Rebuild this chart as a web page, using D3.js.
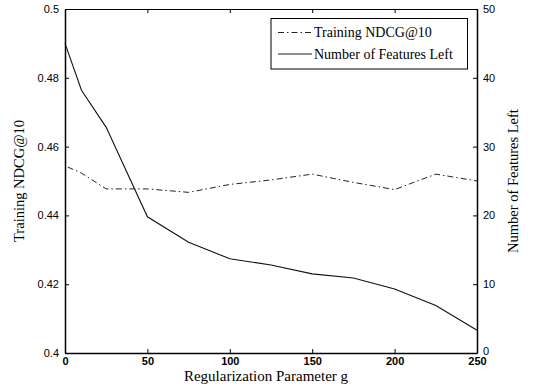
<!DOCTYPE html>
<html><head><meta charset="utf-8">
<script src="https://cdn.jsdelivr.net/npm/d3@7"></script>
<style>
body{margin:0;background:#fff;}
svg{display:block;}
</style></head>
<body>
<svg id="chart" width="533" height="389"></svg>
<script>
const gValues = [0, 10, 25, 50, 75, 100, 125, 150, 175, 200, 225, 250];
const ndcgValues = [0.4544, 0.4523, 0.4477, 0.4477, 0.4467, 0.4490, 0.4503, 0.4520, 0.4496, 0.4475, 0.4520, 0.4500];
const featuresLeft = [45, 38.2, 32.8, 19.8, 16.1, 13.7, 12.8, 11.5, 10.9, 9.3, 6.9, 3.3];
const xTicks = [0, 50, 100, 150, 200, 250];
const yLeftTicks = [0.4, 0.42, 0.44, 0.46, 0.48, 0.5];
const yRightTicks = [0, 10, 20, 30, 40, 50];
const seriesNames = ["Training NDCG@10", "Number of Features Left"];
const xTitle = "Regularization Parameter g";
const yLeftTitle = "Training NDCG@10";
const yRightTitle = "Number of Features Left";

const L = 65, R = 477, T = 9, B = 353;
const svg = d3.select("#chart");
const x = d3.scaleLinear().domain([0, 250]).range([L, R]);
const yL = d3.scaleLinear().domain([0.4, 0.5]).range([B, T]);
const yR = d3.scaleLinear().domain([0, 50]).range([B, T]);

const sans = "'Liberation Sans', Arial, sans-serif";
const serif = "'Liberation Serif', 'Times New Roman', serif";

// Bottom axis
const gx = svg.append("g").attr("transform", `translate(0,${B})`)
  .call(d3.axisBottom(x).tickValues(xTicks).tickFormat(d3.format("d")).tickSizeInner(-4).tickSizeOuter(0).tickPadding(4));
gx.selectAll("text").attr("font-family", sans).attr("font-size", 11).attr("font-weight", "bold").attr("fill", "#000");
// Top axis (ticks only)
const gxt = svg.append("g").attr("transform", `translate(0,${T})`)
  .call(d3.axisTop(x).tickValues(xTicks).tickFormat("").tickSizeInner(-4).tickSizeOuter(0));
// Left axis
const gl = svg.append("g").attr("transform", `translate(${L},0)`)
  .call(d3.axisLeft(yL).tickValues(yLeftTicks).tickFormat(d => d3.format("")(+d.toFixed(2))).tickSizeInner(-4).tickSizeOuter(0).tickPadding(6));
gl.selectAll("text").attr("font-family", sans).attr("font-size", 11).attr("fill", "#000");
// Right axis
const gr = svg.append("g").attr("transform", `translate(${R},0)`)
  .call(d3.axisRight(yR).tickValues(yRightTicks).tickFormat(d3.format("d")).tickSizeInner(-4).tickSizeOuter(0).tickPadding(6));
gr.selectAll("text").attr("font-family", sans).attr("font-size", 11).attr("fill", "#000");

svg.selectAll(".domain").attr("stroke", "#000").attr("stroke-width", 1.5);
svg.selectAll(".tick line").attr("stroke", "#000");
gxt.select(".domain").attr("stroke-width", 1);

gl.selectAll(".tick text").attr("dy", "0.32em");
gr.selectAll(".tick").filter(d => d === 0).select("text").attr("dy", "0.1em");

// Lines
const lineNdcg = d3.line().x((d, i) => x(gValues[i])).y(d => yL(d));
const lineFeat = d3.line().x((d, i) => x(gValues[i])).y(d => yR(d));

svg.append("path").datum(ndcgValues).attr("d", lineNdcg)
  .attr("fill", "none").attr("stroke", "#222").attr("stroke-width", 1)
  .attr("stroke-dasharray", "6,3,1.5,3").attr("stroke-dashoffset", -3);
svg.append("path").datum(featuresLeft).attr("d", lineFeat)
  .attr("fill", "none").attr("stroke", "#111").attr("stroke-width", 1.1);

// Legend
const lg = svg.append("g");
lg.append("rect").attr("x", 271).attr("y", 18.5).attr("width", 196.5).attr("height", 50.5)
  .attr("fill", "#fff").attr("stroke", "#000").attr("stroke-width", 1);
const legendRows = [
  {name: seriesNames[0], dash: "6,3,1.5,3", y: 32.5},
  {name: seriesNames[1], dash: null, y: 54}
];
legendRows.forEach(r => {
  lg.append("line").attr("x1", 278).attr("x2", 312).attr("y1", r.y).attr("y2", r.y)
    .attr("stroke", "#222").attr("stroke-width", 1)
    .attr("stroke-dasharray", r.dash);
  lg.append("text").attr("x", 314).attr("y", r.y).attr("dy", "0.35em")
    .attr("font-family", serif).attr("font-size", 14).attr("fill", "#000").text(r.name);
});

// Titles
svg.append("text").attr("x", 266).attr("y", 381)
  .attr("text-anchor", "middle").attr("font-family", serif).attr("font-size", 15).text(xTitle);
svg.append("text").attr("transform", `translate(19,${(T + B) / 2}) rotate(-90)`)
  .attr("text-anchor", "middle").attr("dy", "0.35em").attr("font-family", serif).attr("font-size", 14.5).text(yLeftTitle);
svg.append("text").attr("transform", `translate(513,${(T + B) / 2}) rotate(-90)`)
  .attr("text-anchor", "middle").attr("dy", "0.35em").attr("font-family", serif).attr("font-size", 14.5).text(yRightTitle);
</script>
</body></html>
